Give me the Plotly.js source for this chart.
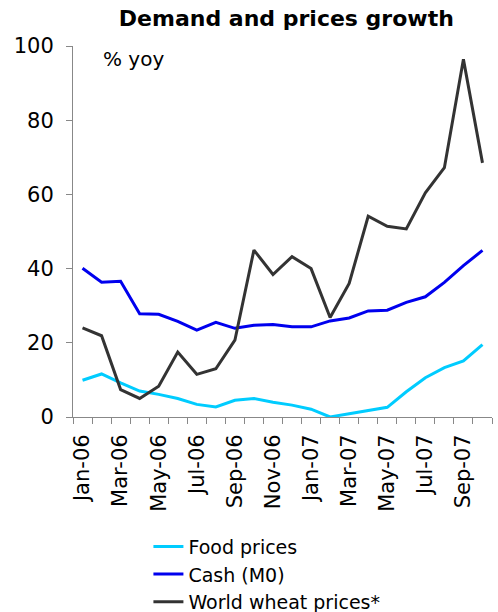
<!DOCTYPE html>
<html>
<head>
<meta charset="utf-8">
<script src="https://cdn.plot.ly/plotly-3.0.1.min.js"></script>
<style>
html,body{margin:0;padding:0;background:#fff;}
#chart{width:498px;height:612px;}
</style>
</head>
<body>
<div id="chart"></div>
<script>
var months = ["Jan-06","Feb-06","Mar-06","Apr-06","May-06","Jun-06","Jul-06","Aug-06","Sep-06","Oct-06","Nov-06","Dec-06",
              "Jan-07","Feb-07","Mar-07","Apr-07","May-07","Jun-07","Jul-07","Aug-07","Sep-07","Oct-07"];
var foodPrices = [9.9, 11.6, 9.2, 7.0, 6.1, 5.0, 3.4, 2.7, 4.5, 5.0, 4.0, 3.2,
                  2.1, 0.0, 0.9, 1.8, 2.6, 6.8, 10.6, 13.3, 15.1, 19.5];
var cashM0 = [40.1, 36.3, 36.6, 27.8, 27.7, 25.8, 23.4, 25.5, 23.9, 24.7, 24.9, 24.3,
              24.3, 25.9, 26.7, 28.6, 28.8, 30.9, 32.4, 36.3, 40.8, 44.9];
var wheatPrices = [24.0, 21.9, 7.4, 5.0, 8.3, 17.5, 11.5, 13.0, 20.7, 45.0, 38.4, 43.2,
                   40.0, 26.8, 36.0, 54.1, 51.4, 50.7, 60.4, 67.2, 96.4, 68.5];
var seriesNames = ["Food prices", "Cash (M0)", "World wheat prices*"];
var titleText = "Demand and prices growth";
var unitText = "% yoy";

var idx = months.map(function(_, i){ return i; });
var labelIdx = idx.filter(function(i){ return i % 2 === 0; });
var boundaries = idx.map(function(i){ return i - 0.5; }).concat([months.length - 0.5]);

var FONT = "DejaVu Sans, Verdana, sans-serif";
var traces = [
  {x: idx, y: foodPrices, name: seriesNames[0], type: "scatter", mode: "lines",
   line: {color: "#00CCFF", width: 3}},
  {x: idx, y: cashM0, name: seriesNames[1], type: "scatter", mode: "lines",
   line: {color: "#0000EE", width: 3}},
  {x: idx, y: wheatPrices, name: seriesNames[2], type: "scatter", mode: "lines",
   line: {color: "#333333", width: 3}}
];

var layout = {
  width: 498, height: 612,
  margin: {l: 73, r: 6, t: 46, b: 195, autoexpand: false},
  paper_bgcolor: "#fff", plot_bgcolor: "#fff",
  font: {family: FONT, color: "#000", size: 20},
  title: {text: "<b>" + titleText + "</b>", font: {family: FONT, size: 22, color: "#000"},
          x: 0.575, xanchor: "center", y: 0.97, yanchor: "middle"},
  xaxis: {
    type: "linear", range: [-0.5, months.length - 0.5],
    tickmode: "array", tickvals: labelIdx, ticktext: labelIdx.map(function(i){ return months[i]; }),
    ticks: "", tickangle: -90, tickfont: {family: FONT, size: 21, color: "#000"},
    showline: true, linecolor: "#888", linewidth: 1, showgrid: false, zeroline: false,
    ticklabelstandoff: 8,
    minor: {tickmode: "array", tickvals: boundaries, ticks: "outside", ticklen: 6,
            tickcolor: "#888", tickwidth: 1, showgrid: false}
  },
  yaxis: {
    range: [0, 100], tickmode: "linear", tick0: 0, dtick: 20,
    ticks: "outside", ticklen: 6, tickcolor: "#888", tickwidth: 1,
    showline: true, linecolor: "#888", linewidth: 1, showgrid: false, zeroline: false,
    tickfont: {family: FONT, size: 21, color: "#000"}, ticklabelstandoff: 8
  },
  showlegend: true,
  legend: {x: 0.18, xanchor: "left", y: -0.298, yanchor: "top",
           font: {family: FONT, size: 19, color: "#000"}, tracegroupgap: 0,
           bgcolor: "rgba(0,0,0,0)", borderwidth: 0},
  annotations: [{text: unitText, xref: "paper", yref: "paper", x: 0.068, y: 0.965,
                 xanchor: "left", yanchor: "middle", showarrow: false,
                 font: {family: FONT, size: 20, color: "#000"}}]
};

Plotly.newPlot("chart", traces, layout, {displayModeBar: false, staticPlot: true});
</script>
</body>
</html>
